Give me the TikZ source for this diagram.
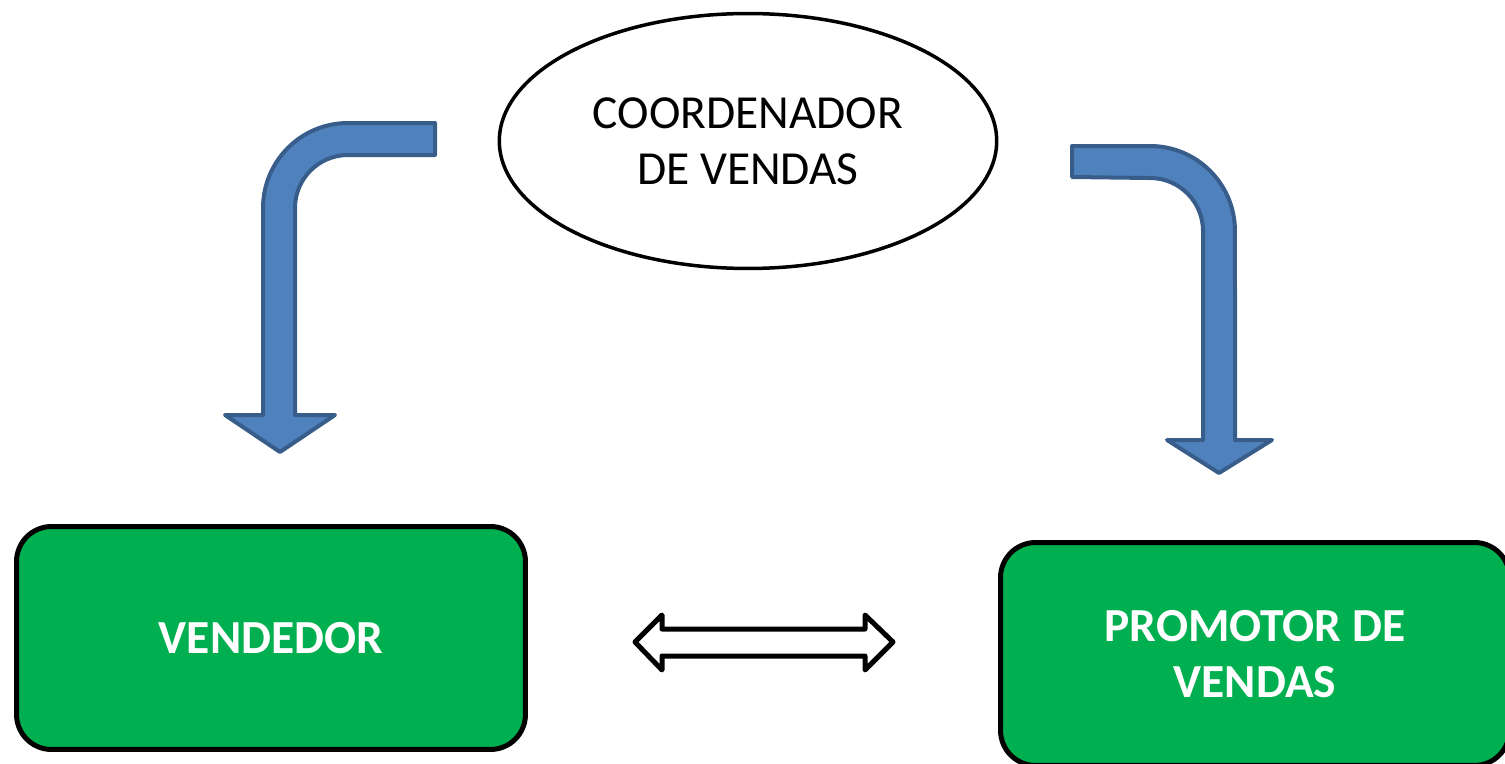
\documentclass[tikz,border=0pt]{standalone}
\usepackage{fontspec}
\setmainfont{Carlito}
\usepackage{tikz}
\usetikzlibrary{shapes.geometric}
\definecolor{boxgreen}{HTML}{00B050}
\definecolor{arrowblue}{HTML}{4F81BD}
\definecolor{arrowedge}{HTML}{385D8A}

\begin{document}
\begin{tikzpicture}[
		x=0.02cm, y=-0.02cm,
		textsize/.style={font=\fontsize{27}{32}\selectfont},
		box/.style={rectangle, rounded corners=0.7cm, draw, line width=0.1cm, fill=boxgreen,
			minimum width=10.18cm, minimum height=4.46cm, text=white, align=center,
			font=\fontsize{27}{32}\selectfont\bfseries, text depth=0pt},
		bent/.style={draw=arrowedge, fill=arrowblue, line width=0.08cm, line join=round},
		hollow/.style={draw, fill=white, line width=0.1cm, line join=round}]

		\useasboundingbox (0,0) rectangle (1505,764);
		\clip (0,0) rectangle (1505,764);

		\node[ellipse, draw, line width=0.07cm, minimum width=9.95cm, minimum height=5.1cm,
			align=center, textsize] (coord) at (748,141) {COORDENADOR\\DE VENDAS};
		\node[box] (vend) at (271,638) {VENDEDOR};
		\node[box] (promo) at (1255,654) {PROMOTOR DE\\VENDAS};

		% bent arrows
		\draw[bent] (435,123) -- (348,123) arc[start angle=90, end angle=180, radius=1.7cm]
			-- (263,415) -- (225,415) -- (280,452) -- (335,415) -- (295,415)
			-- (295,208) arc[start angle=180, end angle=90, radius=1.06cm]
			-- (435,155) -- cycle;
		\draw[bent] (1072,146) -- (1150,146) arc[start angle=90, end angle=0, radius=1.7cm]
			-- (1235,440) -- (1272,440) -- (1219,473) -- (1167,440) -- (1203,440)
			-- (1203,231) arc[start angle=0, end angle=90, radius=1.06cm]
			-- (1072,177) -- cycle;

		% double arrow
		\draw[hollow] (635,642) -- (662,615) -- (662,629) -- (865,629) -- (865,615)
			-- (893,642) -- (865,670) -- (865,656) -- (662,656) -- (662,670) -- cycle;

\end{tikzpicture}
\end{document}
